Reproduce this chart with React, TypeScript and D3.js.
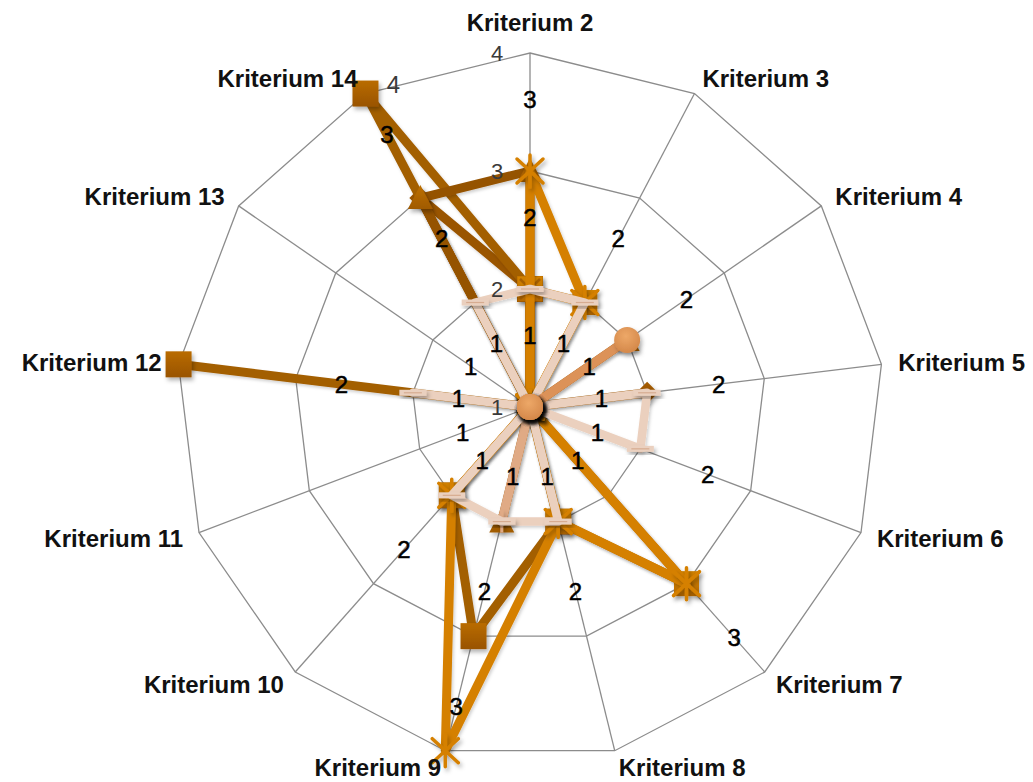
import React from "react";
import * as d3 from "d3";

// axes, clockwise from the top
const categories = [
  "Kriterium 2", "Kriterium 3", "Kriterium 4", "Kriterium 5", "Kriterium 6",
  "Kriterium 7", "Kriterium 8", "Kriterium 9", "Kriterium 10", "Kriterium 11",
  "Kriterium 12", "Kriterium 13", "Kriterium 14",
];
const tickValues = [1, 2, 3, 4];

// one array per series, same order as categories
const diamondValues = [2, 1, 1, 2, 1, 1, 1, 1, 1, 1, 1, 1, 3];
const squareValues = [2, 1, 1, 1, 1, 1, 2, 3, 2, 1, 4, 1, 4];
const triangleValues = [3, 1, 2, 1, 1, 1, 1, 2, 1, 1, 1, 1, 3];
const crossValues = [2, 2, 1, 1, 1, 3, 2, 1, 2, 1, 1, 1, 1];
const starValues = [3, 2, 1, 1, 1, 3, 2, 4, 2, 1, 1, 1, 1];
const plusValues = [1, 1, 1, 1, 1, 1, 1, 2, 1, 1, 1, 1, 1];
const dashValues = [2, 2, 1, 2, 2, 1, 2, 2, 2, 1, 2, 1, 2];
const circleValues = [1, 1, 2, 1, 1, 1, 1, 1, 1, 1, 1, 1, 1];

// outer-ring labels that stay visible (placed beside the point)
const outerLabelAxes = ["Kriterium 14"];

const W = 1033;
const H = 782;
const cx = 530;
const cy = 407;
const R = 354;

const series = [
  { key: "diamond", values: diamondValues, color: "#9a5500", marker: "diamond", width: 9 },
  { key: "square", values: squareValues, color: "#a35e00", marker: "square", width: 9 },
  { key: "triangle", values: triangleValues, color: "#955300", marker: "triangle", width: 9 },
  { key: "cross", values: crossValues, color: "#c27400", marker: "cross", width: 9 },
  { key: "star", values: starValues, color: "#d58000", marker: "star", width: 9 },
  { key: "plus", values: plusValues, color: "#e0aa85", marker: "plus", width: 9 },
  { key: "dash", values: dashValues, color: "#ebd0be", marker: "dash", width: 8.5 },
  { key: "circle", values: circleValues, color: "#dc9258", marker: "circle", width: 9 },
];

const rScale = d3.scaleLinear().domain([1, 4]).range([0, R]);
const angle = d3.scaleLinear().domain([0, categories.length]).range([0, 2 * Math.PI]);

function pos(i: number, r: number): [number, number] {
  const a = angle(i);
  return [cx + r * Math.sin(a), cy - r * Math.cos(a)];
}

function Marker({ kind, color }: { kind: string; color: string }) {
  if (kind === "square") {
    return <rect x={-13} y={-13} width={26} height={26} fill="url(#gSquare)" />;
  }
  if (kind === "diamond") {
    return <path d="M0,-11L11,0L0,11L-11,0Z" fill="url(#gDiamond)" />;
  }
  if (kind === "triangle") {
    return <path d="M0,-13L12.5,11L-12.5,11Z" fill="url(#gTriangle)" />;
  }
  if (kind === "cross") {
    return (
      <g>
        <rect x={-12.5} y={-12.5} width={25} height={25} fill="url(#gCross)" />
        <path d="M-10,-10L10,10M10,-10L-10,10" stroke="#a85f00" strokeWidth={2.5} />
      </g>
    );
  }
  if (kind === "star") {
    return (
      <path
        d="M-13,-12L13,12M13,-12L-13,12M0,-16L0,16"
        stroke={color}
        strokeWidth={3.5}
        strokeLinecap="round"
      />
    );
  }
  if (kind === "plus") {
    return <path d="M0,-11L0,11M-11,0L11,0" stroke={color} strokeWidth={3} />;
  }
  if (kind === "dash") {
    return (
      <g>
        <rect x={-13.5} y={-3} width={27} height={6} fill="#ead0bf" />
        <line x1={-9} x2={9} y1={0} y2={0} stroke="#d6ab90" strokeWidth={1.2} />
      </g>
    );
  }
  return <circle r={13} fill="url(#gCircle)" />;
}

export default function App() {
  const ringValues = tickValues.slice(1);

  const ring = (v: number) =>
    categories.map((_, i) => pos(i, rScale(v)).join(",")).join(" ");

  const radial = d3
    .lineRadial<number>()
    .angle((_, i) => angle(i))
    .radius((v) => rScale(v))
    .curve(d3.curveLinearClosed);

  // data labels, pushed outward along each axis
  const labelOffset = 72;
  const seen = new Set<string>();
  const dataLabels: { x: number; y: number; text: string; thin?: boolean }[] = [];
  series.forEach((s) =>
    s.values.forEach((v, i) => {
      const id = i + ":" + v;
      if (seen.has(id)) return;
      seen.add(id);
      const r = rScale(v) + labelOffset;
      if (r > R) {
        if (!outerLabelAxes.includes(categories[i])) return;
        const [px, py] = pos(i, rScale(v));
        dataLabels.push({ x: px + 28, y: py - 9, text: String(v), thin: true });
        return;
      }
      const [x, y] = pos(i, r);
      dataLabels.push({ x, y, text: String(v) });
    })
  );

  return (
    <svg
      width={W}
      height={H}
      style={{ position: "absolute", left: 0, top: 0, background: "#fff" }}
    >
      <defs>
        <filter id="shadow" x="-50%" y="-50%" width="200%" height="200%">
          <feDropShadow dx="2" dy="3" stdDeviation="2" floodColor="#000" floodOpacity="0.3" />
        </filter>
        <filter id="lineShadow" x="-10%" y="-10%" width="120%" height="120%">
          <feDropShadow dx="1.5" dy="2" stdDeviation="1.5" floodColor="#000" floodOpacity="0.18" />
        </filter>
        <linearGradient id="gSquare" x1="0" y1="0" x2="0" y2="1">
          <stop offset="0" stopColor="#b96c00" />
          <stop offset="1" stopColor="#995300" />
        </linearGradient>
        <linearGradient id="gDiamond" x1="0" y1="0" x2="0" y2="1">
          <stop offset="0" stopColor="#a55c00" />
          <stop offset="1" stopColor="#8c4c00" />
        </linearGradient>
        <linearGradient id="gTriangle" x1="0" y1="0" x2="0" y2="1">
          <stop offset="0" stopColor="#bd7000" />
          <stop offset="1" stopColor="#a05a00" />
        </linearGradient>
        <linearGradient id="gCross" x1="0" y1="0" x2="0" y2="1">
          <stop offset="0" stopColor="#d28200" />
          <stop offset="1" stopColor="#b76a00" />
        </linearGradient>
        <radialGradient id="gCircle" cx="0.45" cy="0.35" r="0.65">
          <stop offset="0" stopColor="#eda868" />
          <stop offset="1" stopColor="#d4884a" />
        </radialGradient>
      </defs>

      {/* grid */}
      <g fill="none" stroke="#8c8c8c" strokeWidth={1.3}>
        {ringValues.map((v) => (
          <polygon key={v} points={ring(v)} />
        ))}
        {categories.map((c, i) => {
          const [x, y] = pos(i, R);
          return <line key={c} x1={cx} y1={cy} x2={x} y2={y} />;
        })}
      </g>

      {/* series: line then markers, in order */}
      {series.map((s) => (
        <g key={s.key}>
          <path
            d={radial(s.values) || ""}
            transform={`translate(${cx},${cy})`}
            fill="none"
            stroke={s.color}
            strokeWidth={s.width}
            strokeLinejoin="round"
            filter="url(#lineShadow)"
          />
          {s.values.map((v, i) => {
            const [x, y] = pos(i, rScale(v));
            return (
              <g key={i} transform={`translate(${x},${y})`} filter="url(#shadow)">
                <Marker kind={s.marker} color={s.color} />
              </g>
            );
          })}
        </g>
      ))}

      {/* value axis ticks, left of the first axis */}
      <g fontFamily="Liberation Sans, Arial, sans-serif" fontSize={22} fill="#3a3a3a">
        {tickValues.map((t) => (
          <text key={t} x={cx - 33} y={cy - rScale(t)} textAnchor="middle" dominantBaseline="central">
            {t}
          </text>
        ))}
      </g>

      {/* data labels */}
      <g fontFamily="Liberation Sans, Arial, sans-serif" fontSize={24}>
        {dataLabels.map((d, k) => (
          <text
            key={k}
            x={d.x}
            y={d.y}
            textAnchor="middle"
            dominantBaseline="central"
            fill={d.thin ? "#3a3a3a" : "#000"}
            stroke={d.thin ? "none" : "#000"}
            strokeWidth={0.5}
          >
            {d.text}
          </text>
        ))}
      </g>

      {/* category labels */}
      <g fontFamily="Liberation Sans, Arial, sans-serif" fontSize={24} fontWeight="bold" fill="#111">
        {categories.map((c, i) => {
          const a = angle(i);
          const s = Math.sin(a);
          const [x, y] = pos(i, R + 17);
          const anchor = Math.abs(s) < 0.1 ? "middle" : s > 0 ? "start" : "end";
          const yy = Math.abs(s) < 0.1 ? y - 14 : y;
          return (
            <text key={c} x={x} y={yy} textAnchor={anchor} dominantBaseline="central">
              {c}
            </text>
          );
        })}
      </g>
    </svg>
  );
}
